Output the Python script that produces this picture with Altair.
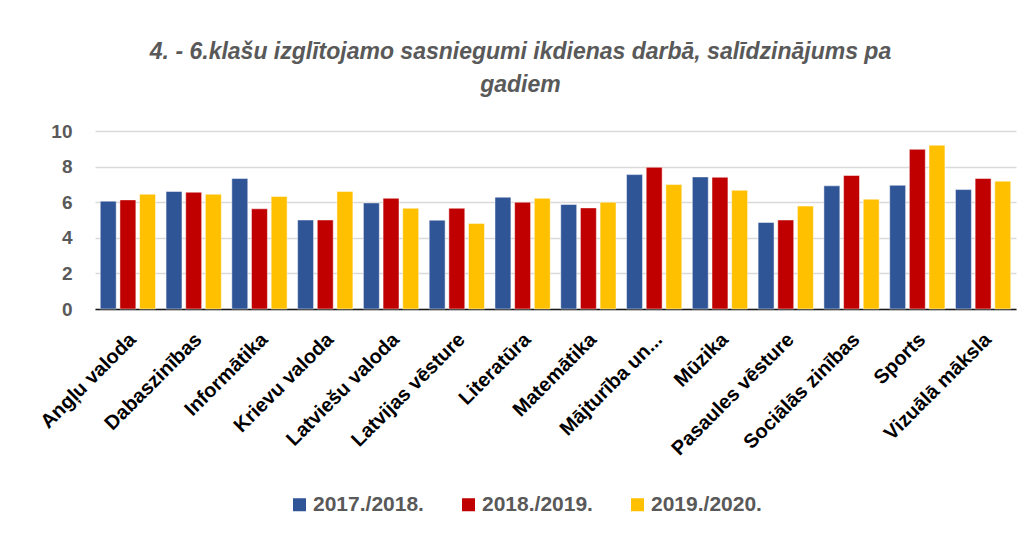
import altair as alt
import pandas as pd

subjects = ["Angļu valoda", "Dabaszinības", "Informātika", "Krievu valoda", "Latviešu valoda",
            "Latvijas vēsture", "Literatūra", "Matemātika", "Mājturība un...", "Mūzika",
            "Pasaules vēsture", "Sociālās zinības", "Sports", "Vizuālā māksla"]
years = ["2017./2018.", "2018./2019.", "2019./2020."]
v2017 = [6.06, 6.60, 7.33, 5.00, 5.96, 4.99, 6.28, 5.87, 7.55, 7.42, 4.86, 6.92, 6.95, 6.71]
v2018 = [6.13, 6.56, 5.63, 5.00, 6.22, 5.66, 6.00, 5.68, 7.96, 7.40, 5.00, 7.50, 8.97, 7.33]
v2019 = [6.45, 6.45, 6.32, 6.60, 5.66, 4.80, 6.22, 6.00, 6.99, 6.67, 5.78, 6.17, 9.20, 7.18]
colors = ["#2F5597", "#C00000", "#FFC000"]

rows = []
for s, a, b, c in zip(subjects, v2017, v2018, v2019):
    for y, v in zip(years, (a, b, c)):
        rows.append({"subject": s, "year": y, "value": v})
df = pd.DataFrame(rows)

FONT = "Liberation Sans"

chart = alt.Chart(df).mark_bar(stroke="white", strokeWidth=0.8, strokeOpacity=0.6).encode(
    x=alt.X("subject:N", sort=subjects, title=None,
            scale=alt.Scale(paddingInner=0.16, paddingOuter=0.08),
            axis=alt.Axis(labelAngle=-45, labelFontSize=20, labelFontWeight="bold",
                          labelColor="#000000", labelFont=FONT, ticks=False,
                          domainColor="#1a1a1a", domainWidth=1.5, labelPadding=20,
                          labelOffset=-2, labelLimit=300)),
    xOffset=alt.XOffset("year:N", sort=years, scale=alt.Scale(paddingInner=0.19)),
    y=alt.Y("value:Q", title=None,
            scale=alt.Scale(domain=[0, 10], nice=False),
            axis=alt.Axis(values=[0, 2, 4, 6, 8, 10], labelFontSize=19, labelFontWeight="bold",
                          labelColor="#595959", labelFont=FONT, domain=False, ticks=False,
                          gridColor="#D9D9D9", gridWidth=1.5, labelPadding=23)),
    color=alt.Color("year:N", sort=years, scale=alt.Scale(domain=years, range=colors),
                    legend=alt.Legend(title=None, orient="none", direction="horizontal",
                                      legendX=194, legendY=363, symbolType="square",
                                      symbolSize=169, symbolStrokeWidth=0,
                                      labelFontSize=21, labelFontWeight="bold",
                                      labelColor="#595959", labelFont=FONT, labelOffset=3,
                                      labelLimit=300, columnPadding=34, symbolOpacity=1)),
).properties(
    width=921, height=178,
    title=alt.Title("4. - 6.klašu izglītojamo sasniegumi ikdienas darbā, salīdzinājums pa",
                    subtitle="gadiem", fontSize=23, subtitleFontSize=23,
                    fontStyle="italic", subtitleFontStyle="italic",
                    fontWeight="bold", subtitleFontWeight="bold",
                    color="#595959", subtitleColor="#595959",
                    font=FONT, subtitleFont=FONT, anchor="middle", dx=-35,
                    offset=25, subtitlePadding=10),
    autosize=alt.AutoSizeParams(type="none"),
    padding={"left": 87, "top": 123, "right": 7, "bottom": 222},
).configure_view(stroke=None)

chart.save("out.html", embed_options={"renderer": "svg", "actions": False})
